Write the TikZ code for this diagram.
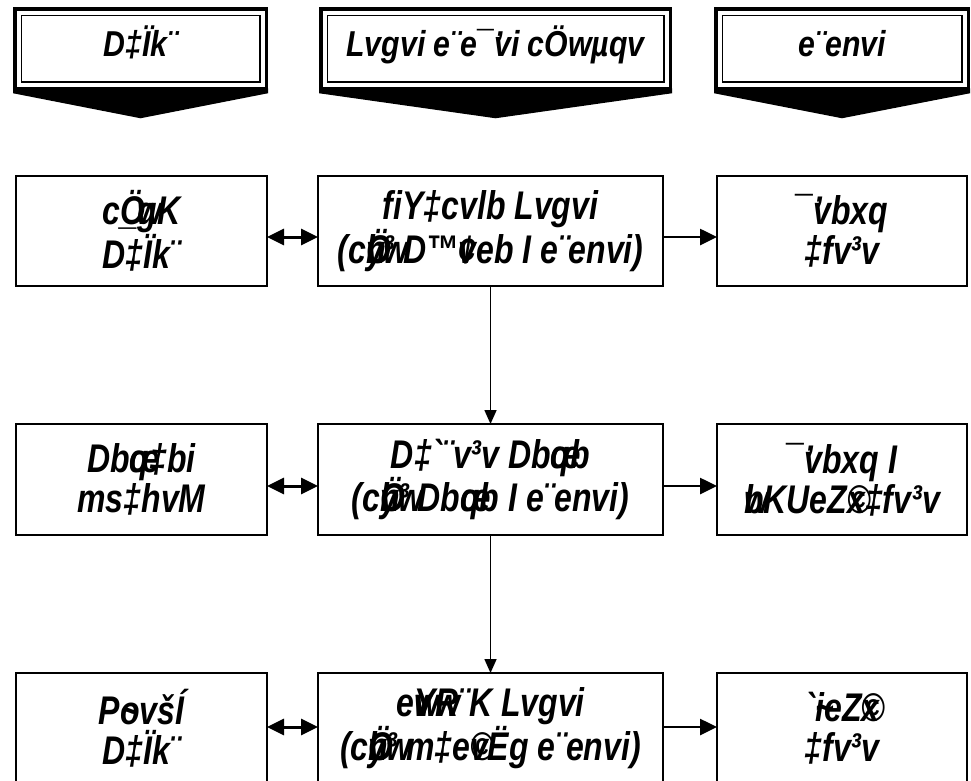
\documentclass[tikz,border=0pt]{standalone}
\usepackage{fontspec}
\newfontfamily\bnfont{Liberation Sans}[FakeStretch=0.8,Ligatures=TeXOff]
\newfontfamily\hdfont{Liberation Sans}[FakeStretch=0.84,Ligatures=TeXOff]
\usetikzlibrary{arrows.meta,calc}
\newcommand{\zw}[1]{\rlap{#1}}
\begin{document}
\begin{tikzpicture}[x=1pt,y=-1pt,
  hdr/.style={draw, line width=3.5pt, outer sep=0pt, minimum height=79.5pt, inner sep=0pt,
    text height=25pt, text depth=9pt,
    font=\hdfont\bfseries\itshape\fontsize{36}{38}\selectfont},
  rbox/.style={draw, line width=1.8pt, outer sep=0pt, align=center, inner sep=0pt,
    font=\bnfont\bfseries\itshape\fontsize{40}{40}\selectfont},
  dbl/.style={line width=3pt, {Triangle[length=17pt,width=16pt]}-{Triangle[length=17pt,width=16pt]}},
  rarr/.style={line width=2.6pt, -{Triangle[length=17pt,width=16pt]}},
  varr/.style={line width=1.6pt, -{Triangle[length=14pt,width=12pt]}},
  innerframe/.style={line width=1.5pt},
  tipfill/.style={fill=black}
]
\fill[white] (0,0) rectangle (971,780);
\useasboundingbox (0,0) rectangle (971,780);
\clip (0,0) rectangle (971,780);

% headers
\node[hdr, minimum width=251.5pt] (h1) at (140.5,48.5) {D‡Ïk¨};
\node[hdr, minimum width=349.5pt] (h2) at (495.5,48.5) {Lvgvi e¨e¯\zw{’}vi cÖwµqv};
\node[hdr, minimum width=252.5pt] (h3) at (842,48.5) {e¨envi};
\foreach \h in {h1,h2,h3}{
  \draw[innerframe] ([xshift=6.5pt,yshift=-6.5pt]\h.north west) rectangle ([xshift=-6.5pt,yshift=6.5pt]\h.south east);
  \fill[tipfill] ([xshift=-1.75pt]\h.south west) -- ([xshift=1.75pt]\h.south east)
     -- ([xshift=1.75pt,yshift=-5pt]\h.south east) -- ([yshift=-30pt]\h.south)
     -- ([xshift=-1.75pt,yshift=-5pt]\h.south west) -- cycle;
}

% row 1
\node[rbox, minimum width=251pt, minimum height=110pt] (l1) at (141.5,231) {c\zw{Ö}\symbol{95}\zw{w}gK\\D‡Ïk¨};
\node[rbox, minimum width=345pt, minimum height=110pt] (c1) at (490.5,231) {fiY‡cvlb Lvgvi\\(c\zw{Ö}\zw{h}y\zw{w}³ D™\zw{¢}veb I e¨envi)};
\node[rbox, minimum width=250pt, minimum height=110pt] (r1) at (842,231) {¯\zw{’}vbxq\\‡fv³v};

% row 2
\node[rbox, minimum width=251pt, minimum height=111pt] (l2) at (141.5,479.5) {Db\zw{œ}q‡bi\\ms‡hvM};
\node[rbox, minimum width=345pt, minimum height=111pt] (c2) at (490.5,479.5) {D‡`¨v³v Db\zw{œ}qb\\(c\zw{Ö}\zw{h}y\zw{w}³ Db\zw{œ}qb I e¨envi)};
\node[rbox, minimum width=250pt, minimum height=111pt] (r2) at (842,479.5) {¯\zw{’}vbxq I\\\zw{w}bKUeZ\zw{©}x‡fv³v};

% row 3
\node[rbox, minimum width=251pt, minimum height=110pt] (l3) at (141.5,728) {P\zw{\symbol{126}}ovšÍ\\D‡Ïk¨};
\node[rbox, minimum width=345pt, minimum height=110pt] (c3) at (490.5,728) {e\zw{v}\zw{w}Y\zw{w}R¨K Lvgvi\\(c\zw{Ö}\zw{h}y\zw{w}³ m‡e\zw{©}vËg e¨envi)};
\node[rbox, minimum width=250pt, minimum height=110pt] (r3) at (842,728) {`\zw{\symbol{126}}ieZ\zw{©}x\\‡fv³v};

% connectors
\draw[dbl] ([yshift=-6pt]l1.east) -- ([yshift=-6pt]c1.west);
\draw[rarr] ([yshift=-6pt]c1.east) -- ([yshift=-6pt]r1.west);
\draw[dbl] ([yshift=-6.5pt]l2.east) -- ([yshift=-6.5pt]c2.west);
\draw[rarr] ([yshift=-6.5pt]c2.east) -- ([yshift=-6.5pt]r2.west);
\draw[dbl] ([yshift=1pt]l3.east) -- ([yshift=1pt]c3.west);
\draw[rarr] ([yshift=1pt]c3.east) -- ([yshift=1pt]r3.west);
\draw[varr] (c1.south) -- (c2.north);
\draw[varr] (c2.south) -- (c3.north);
\end{tikzpicture}
\end{document}
